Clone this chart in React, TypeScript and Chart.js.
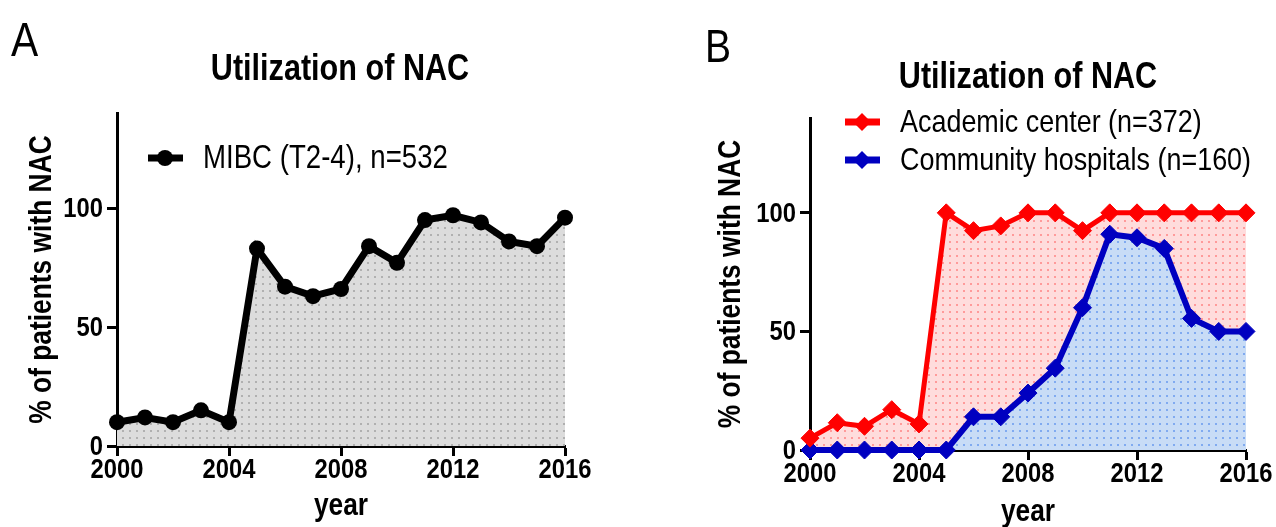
import React, { useEffect, useRef } from "react";
import { Chart, registerables } from "chart.js";

Chart.register(...registerables);

// ---------- data ----------
const years = [2000, 2001, 2002, 2003, 2004, 2005, 2006, 2007, 2008, 2009, 2010, 2011, 2012, 2013, 2014, 2015, 2016];
const mibcValues = [10, 12, 10, 15, 10, 83, 67, 63, 66, 84, 77, 95, 97, 94, 86, 84, 96];
const academicValues = [5, 11.5, 10, 17, 11, 100, 92.5, 94.5, 100, 100, 92.5, 100, 100, 100, 100, 100, 100];
const communityValues = [0, 0, 0, 0, 0, 0, 14, 14, 24, 34.5, 60, 91, 89.5, 85, 55.5, 50, 50];
const yTickValues = [0, 50, 100];
const xTickValues = [2000, 2004, 2008, 2012, 2016];
const seriesLabelsA = ["MIBC (T2-4), n=532"];
const seriesLabelsB = ["Academic center (n=372)", "Community hospitals (n=160)"];
const chartTitle = "Utilization of NAC";
const xTitle = "year";
const yTitle = "% of patients with NAC";

const FONT = '"Liberation Sans", Arial, Helvetica, sans-serif';
const SQ = 0.85; // condensed look
const W = 638;
const H = 527;

function makePattern(bg: string, dot: string) {
  const c = document.createElement("canvas");
  c.width = 7;
  c.height = 7;
  const g = c.getContext("2d")!;
  g.fillStyle = bg;
  g.fillRect(0, 0, 7, 7);
  g.fillStyle = dot;
  g.fillRect(3, 3, 2, 2);
  return g.createPattern(c, "repeat")!;
}

function toPoints(vals: number[]) {
  return years.map((y, i) => ({ x: y, y: vals[i] }));
}

function sText(
  ctx: CanvasRenderingContext2D,
  text: string,
  x: number,
  y: number,
  font: string,
  align: CanvasTextAlign,
  baseline: CanvasTextBaseline,
  rot = 0
) {
  ctx.save();
  ctx.translate(x, y);
  if (rot) ctx.rotate(rot);
  ctx.scale(SQ, 1);
  ctx.font = font;
  ctx.fillStyle = "#000";
  ctx.textAlign = align;
  ctx.textBaseline = baseline;
  ctx.fillText(text, 0, 0);
  ctx.restore();
}

type LegendItem = { label: string; color: string; style: "circle" | "diamond"; y: number };

type PanelSpec = {
  letter: string;
  letterX: number;
  letterY: number;
  letterSize: number;
  titleX: number;
  titleY: number;
  area: { left: number; right: number; top: number; bottom: number };
  yTitleX: number;
  xTitleY: number;
  xLabelY: number;
  legend: { items: LegendItem[]; x1: number; x2: number; mx: number; tx: number; lw: number; r: number; size: number };
};

function drawMarker(ctx: CanvasRenderingContext2D, style: string, x: number, y: number, r: number, color: string) {
  ctx.fillStyle = color;
  ctx.beginPath();
  if (style === "circle") {
    ctx.arc(x, y, r, 0, Math.PI * 2);
  } else {
    ctx.moveTo(x, y - r);
    ctx.lineTo(x + r, y);
    ctx.lineTo(x, y + r);
    ctx.lineTo(x - r, y);
    ctx.closePath();
  }
  ctx.fill();
}

function buildConfig(spec: PanelSpec, datasets: any[]): any {
  const { area } = spec;
  const tickFont = `bold 28px ${FONT}`;
  const decor = {
    id: "decor",
    afterDraw(chart: any) {
      const ctx: CanvasRenderingContext2D = chart.ctx;
      const xs = chart.scales.x;
      const ys = chart.scales.y;
      // panel letter + title
      sText(ctx, spec.letter, spec.letterX, spec.letterY, `${spec.letterSize}px ${FONT}`, "left", "alphabetic");
      sText(ctx, chartTitle, spec.titleX, spec.titleY, `bold 36px ${FONT}`, "center", "alphabetic");
      // tick labels
      for (const v of xTickValues) {
        sText(ctx, String(v), xs.getPixelForValue(v), spec.xLabelY, tickFont, "center", "middle");
      }
      for (const v of yTickValues) {
        sText(ctx, String(v), ys.left + ys.width - 14, ys.getPixelForValue(v) + 1, tickFont, "right", "middle");
      }
      // axis titles
      sText(ctx, xTitle, (xs.left + xs.right) / 2, spec.xTitleY, `bold 31px ${FONT}`, "center", "alphabetic");
      sText(ctx, yTitle, spec.yTitleX, (ys.top + ys.bottom) / 2, `bold 31px ${FONT}`, "center", "middle", -Math.PI / 2);
      // legend
      const lg = spec.legend;
      for (const it of lg.items) {
        ctx.save();
        ctx.strokeStyle = it.color;
        ctx.lineWidth = lg.lw;
        ctx.beginPath();
        ctx.moveTo(lg.x1, it.y);
        ctx.lineTo(lg.x2, it.y);
        ctx.stroke();
        drawMarker(ctx, it.style, lg.mx, it.y, lg.r, it.color);
        ctx.restore();
        sText(ctx, it.label, lg.tx, it.y + 1, `${lg.size}px ${FONT}`, "left", "middle");
      }
    },
  };

  const axisCommon = {
    ticks: { display: false },
    grid: { drawOnChartArea: false, drawTicks: true, tickLength: 10, tickWidth: 3, tickColor: "#000" },
    border: { display: true, color: "#000", width: 3 },
    title: { display: false },
  };

  return {
    type: "line",
    data: { datasets },
    plugins: [decor],
    options: {
      responsive: false,
      animation: false,
      events: [],
      layout: {
        padding: { left: 0, right: W - area.right, top: area.top, bottom: 0 },
      },
      plugins: {
        legend: { display: false },
        tooltip: { enabled: false },
        title: { display: false },
        filler: { drawTime: "beforeDatasetsDraw" },
      },
      scales: {
        x: {
          ...axisCommon,
          type: "linear",
          min: 2000,
          max: 2016,
          afterBuildTicks: (s: any) => {
            s.ticks = xTickValues.map((v) => ({ value: v }));
          },
          afterFit: (s: any) => {
            s.height = H - area.bottom;
          },
        },
        y: {
          ...axisCommon,
          type: "linear",
          min: 0,
          max: 140,
          afterBuildTicks: (s: any) => {
            s.ticks = yTickValues.map((v) => ({ value: v }));
          },
          afterFit: (s: any) => {
            s.width = area.left;
          },
        },
      },
    },
  };
}

function ChartCanvas({ left, make }: { left: number; make: () => any }) {
  const ref = useRef<HTMLCanvasElement | null>(null);
  useEffect(() => {
    if (!ref.current) return;
    const chart = new Chart(ref.current, make());
    return () => chart.destroy();
  }, []);
  return (
    <canvas
      ref={ref}
      width={W}
      height={H}
      style={{ position: "absolute", left, top: 0, width: W, height: H }}
    />
  );
}

function makeA() {
  const spec: PanelSpec = {
    letter: "A",
    letterX: 11,
    letterY: 56,
    letterSize: 48,
    titleX: 340,
    titleY: 80,
    area: { left: 117, right: 565, top: 113, bottom: 446 },
    yTitleX: 42,
    xTitleY: 515,
    xLabelY: 470,
    legend: {
      items: [{ label: seriesLabelsA[0], color: "#000", style: "circle", y: 158 }],
      x1: 148,
      x2: 183,
      mx: 165,
      tx: 203,
      lw: 7,
      r: 8,
      size: 32.5,
    },
  };
  const datasets = [
    {
      label: seriesLabelsA[0],
      data: toPoints(mibcValues),
      borderColor: "#000",
      borderWidth: 7,
      backgroundColor: makePattern("#dcdcdc", "#b0b0b0"),
      fill: "origin",
      pointStyle: "circle",
      pointRadius: 8,
      pointBackgroundColor: "#000",
      pointBorderColor: "#000",
      pointBorderWidth: 0,
      tension: 0,
      clip: false,
    },
  ];
  return buildConfig(spec, datasets);
}

function makeB() {
  const spec: PanelSpec = {
    letter: "B",
    letterX: 67,
    letterY: 62,
    letterSize: 46,
    titleX: 390,
    titleY: 88,
    area: { left: 172, right: 608, top: 118, bottom: 450 },
    yTitleX: 93,
    xTitleY: 521,
    xLabelY: 474,
    legend: {
      items: [
        { label: seriesLabelsB[0], color: "#ff0000", style: "diamond", y: 122 },
        { label: seriesLabelsB[1], color: "#0000c0", style: "diamond", y: 160 },
      ],
      x1: 207,
      x2: 242,
      mx: 224,
      tx: 262,
      lw: 7,
      r: 9,
      size: 31.7,
    },
  };
  const datasets = [
    {
      label: seriesLabelsB[0],
      data: toPoints(academicValues),
      borderColor: "#ff0000",
      borderWidth: 5,
      backgroundColor: makePattern("#ffdcdc", "#ff9a9a"),
      fill: "+1",
      pointStyle: "rectRot",
      pointRadius: 9,
      pointBackgroundColor: "#ff0000",
      pointBorderColor: "#ff0000",
      pointBorderWidth: 1,
      tension: 0,
      clip: false,
    },
    {
      label: seriesLabelsB[1],
      data: toPoints(communityValues),
      borderColor: "#0000c0",
      borderWidth: 6,
      backgroundColor: makePattern("#c8dcf6", "#80aaf0"),
      fill: "origin",
      pointStyle: "rectRot",
      pointRadius: 9,
      pointBackgroundColor: "#0000c0",
      pointBorderColor: "#0000c0",
      pointBorderWidth: 1,
      tension: 0,
      clip: false,
    },
  ];
  return buildConfig(spec, datasets);
}

export default function App() {
  return (
    <div style={{ position: "absolute", left: 0, top: 0, width: 1276, height: 527, background: "#fff", overflow: "hidden" }}>
      <ChartCanvas left={0} make={makeA} />
      <ChartCanvas left={638} make={makeB} />
    </div>
  );
}
